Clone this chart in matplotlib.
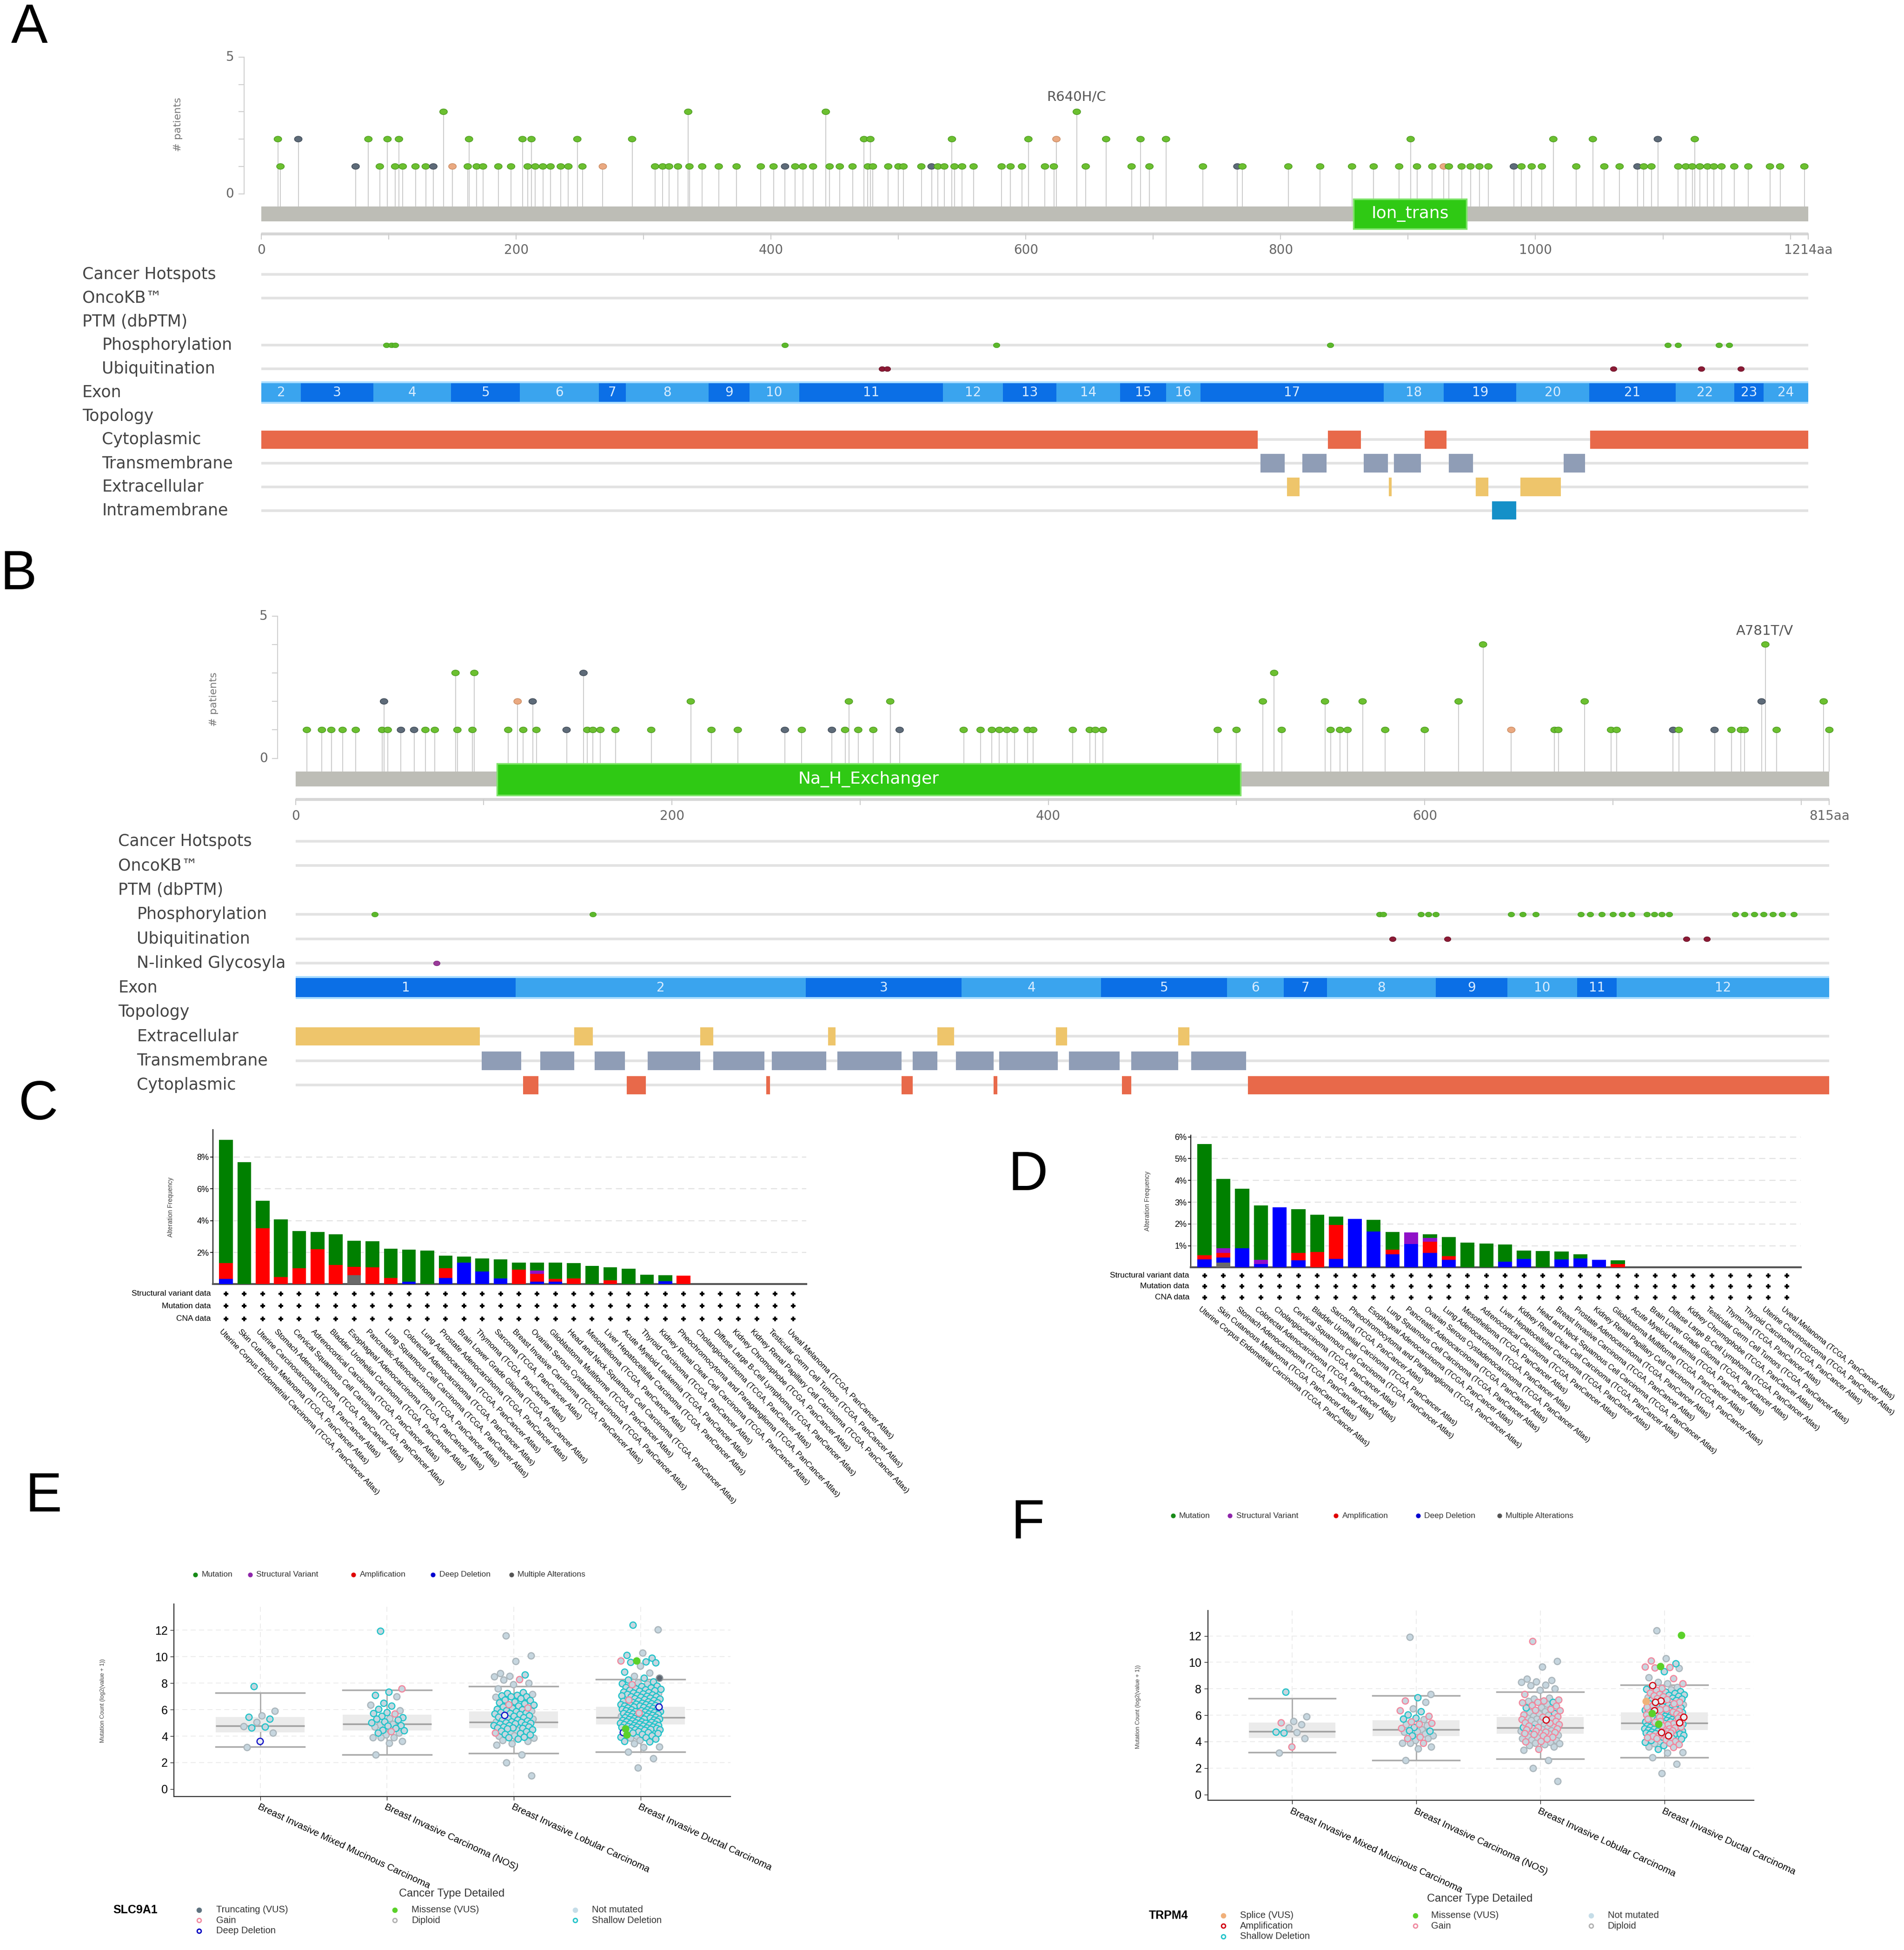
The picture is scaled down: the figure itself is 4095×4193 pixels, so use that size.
import numpy as np
import matplotlib
matplotlib.use("Agg")
import matplotlib.pyplot as plt
import matplotlib.transforms as mtransforms
from matplotlib.patches import Rectangle

plt.rcParams['font.family'] = ['Liberation Sans', 'DejaVu Sans']
WIDE = ['DejaVu Sans']

# ---------------- panel A : SLC9A1 lollipop (1214 aa) ----------------
A_length = 1214
A_h1 = [15, 74, 93, 105, 111, 121, 129, 135, 150, 162, 169, 174, 186, 196, 209, 215, 221,
        227, 235, 241, 252, 268, 309, 315, 320, 327, 336, 346, 359, 373, 392, 402, 411, 419,
        425, 433, 446, 454, 464, 476, 480, 492, 500, 504, 518, 526, 531, 536, 544, 550, 559,
        581, 588, 597, 615, 622, 647, 683, 697, 739, 766, 770, 806, 831, 856, 873, 893, 907,
        919, 928, 932, 942, 949, 956, 963, 983, 989, 997, 1005, 1032, 1054, 1066, 1080, 1085,
        1091, 1112, 1118, 1123, 1129, 1135, 1140, 1146, 1156, 1167, 1184, 1192, 1211]
A_h2 = [13, 29, 84, 99, 108, 163, 205, 212, 248, 291, 473, 478, 542, 602, 624, 663, 690,
        710, 902, 1014, 1045, 1096, 1125]
A_h3 = [143, 335, 443, 640]
A_truncating = [29, 74, 135, 411, 526, 766, 983, 1080, 1096]
A_other = [150, 268, 624, 928]
A_domain = (857, 946)
A_domain_name = "Ion_trans"
A_hotspot = "R640H/C"
A_phospho = [98, 102, 105, 411, 577, 839, 1104, 1112, 1144, 1152]
A_ubiq = [487, 491, 1061, 1130, 1161]
A_exon_edges = [0, 31, 88, 149, 203, 265, 286, 351, 383, 422, 535, 582, 624, 674, 710, 737,
                881, 928, 985, 1042, 1110, 1156, 1179, 1214]
A_exon_first = 2
A_cyto = [(0, 782), (837, 863), (913, 930), (1043, 1214)]
A_tm = [(784, 803), (817, 836), (865, 884), (889, 910), (932, 951), (1022, 1039)]
A_extra = [(805, 815), (885, 887), (953, 963), (988, 1020)]
A_intra = [(966, 985)]
A_tracks = ["Cancer Hotspots", "OncoKB\u2122", "PTM (dbPTM)", "Phosphorylation", "Ubiquitination",
            "Exon", "Topology", "Cytoplasmic", "Transmembrane", "Extracellular", "Intramembrane"]
A_indent = [0, 0, 0, 1, 1, 0, 0, 1, 1, 1, 1]

# ---------------- panel B : second protein (815 aa) ----------------
B_length = 815
B_h1 = [6, 14, 19, 25, 32, 46, 49, 56, 63, 69, 74, 86, 94, 113, 121, 128, 144, 155, 158, 162,
        170, 189, 221, 235, 260, 269, 285, 292, 299, 307, 321, 355, 364, 370, 374, 378, 382,
        389, 392, 413, 422, 425, 429, 490, 500, 524, 550, 555, 559, 579, 600, 646, 669, 671,
        699, 702, 732, 735, 754, 763, 768, 770, 787, 815]
B_h2 = [47, 118, 126, 210, 294, 316, 514, 547, 567, 618, 685, 779, 812]
B_h3 = [85, 95, 153, 520]
B_h4 = [631, 781]
B_truncating = [47, 56, 63, 126, 144, 153, 260, 285, 321, 732, 754, 779]
B_other = [118, 646]
B_domain = (107, 502)
B_domain_name = "Na_H_Exchanger"
B_hotspot = "A781T/V"
B_phospho = [42, 158, 576, 578, 598, 602, 606, 646, 652, 659, 683, 688, 694, 700, 705, 710,
             718, 722, 726, 730, 765, 770, 775, 780, 785, 790, 796]
B_ubiq = [583, 612, 739, 750]
B_nlinked = [75]
B_exon_edges = [0, 117, 271, 354, 428, 495, 525, 548, 606, 644, 681, 702, 815]
B_exon_first = 1
B_extra = [(0, 98), (148, 158), (215, 222), (283, 287), (341, 350), (404, 410), (469, 475)]
B_tm = [(99, 120), (130, 148), (159, 175), (187, 215), (222, 249), (253, 282), (288, 322),
        (328, 341), (351, 371), (374, 405), (411, 438), (444, 469), (476, 505)]
B_cyto = [(121, 129), (176, 186), (250, 252), (322, 328), (371, 373), (439, 444), (506, 815)]
B_tracks = ["Cancer Hotspots", "OncoKB\u2122", "PTM (dbPTM)", "Phosphorylation", "Ubiquitination",
            "N-linked Glycosyla", "Exon", "Topology", "Extracellular", "Transmembrane", "Cytoplasmic"]
B_indent = [0, 0, 0, 1, 1, 1, 0, 0, 1, 1, 1]

# ---------------- panels C / D : alteration frequency (%) ----------------
SUFFIX = " (TCGA, PanCancer Atlas)"
C_cats = ["Uterine Corpus Endometrial Carcinoma", "Skin Cutaneous Melanoma", "Uterine Carcinosarcoma",
          "Stomach Adenocarcinoma", "Cervical Squamous Cell Carcinoma", "Adrenocortical Carcinoma",
          "Bladder Urothelial Carcinoma", "Esophageal Adenocarcinoma", "Pancreatic Adenocarcinoma",
          "Lung Squamous Cell Carcinoma", "Colorectal Adenocarcinoma", "Lung Adenocarcinoma",
          "Prostate Adenocarcinoma", "Brain Lower Grade Glioma", "Thymoma", "Sarcoma",
          "Breast Invasive Carcinoma", "Ovarian Serous Cystadenocarcinoma", "Glioblastoma Multiforme",
          "Head and Neck Squamous Cell Carcinoma", "Mesothelioma", "Liver Hepatocellular Carcinoma",
          "Acute Myeloid Leukemia", "Thyroid Carcinoma", "Kidney Renal Clear Cell Carcinoma",
          "Pheochromocytoma and Paraganglioma", "Cholangiocarcinoma", "Diffuse Large B-Cell Lymphoma",
          "Kidney Chromophobe", "Kidney Renal Papillary Cell Carcinoma", "Testicular Germ Cell Tumors",
          "Uveal Melanoma"]
C_mut = [7.75, 7.69, 1.74, 3.62, 2.36, 1.09, 1.94, 1.63, 1.63, 1.84, 2.01, 2.11, 0.80, 0.37, 0.80,
         1.19, 0.46, 0.51, 1.02, 0.97, 1.14, 0.80, 0.99, 0.59, 0.38, 0, 0, 0, 0, 0, 0, 0]
C_sv = [0, 0, 0, 0, 0, 0, 0, 0, 0, 0, 0, 0, 0, 0, 0, 0, 0, 0.20, 0, 0, 0, 0, 0, 0, 0, 0,
        0, 0, 0, 0, 0, 0]
C_amp = [0.98, 0, 3.51, 0.46, 1.00, 2.20, 1.20, 0.54, 1.07, 0.40, 0, 0, 0.61, 0, 0, 0, 0.91,
         0.50, 0.19, 0.36, 0, 0.26, 0, 0, 0, 0.55, 0, 0, 0, 0, 0, 0]
C_deep = [0.34, 0, 0, 0, 0, 0, 0, 0, 0, 0, 0.17, 0, 0.39, 1.37, 0.81, 0.37, 0, 0.15, 0.15, 0,
          0, 0, 0, 0, 0.19, 0, 0, 0, 0, 0, 0, 0]
C_multi = [0, 0, 0, 0, 0, 0, 0, 0.56, 0, 0, 0, 0, 0, 0, 0, 0, 0, 0, 0, 0, 0, 0, 0, 0, 0, 0,
           0, 0, 0, 0, 0, 0]

D_cats = ["Uterine Corpus Endometrial Carcinoma", "Skin Cutaneous Melanoma", "Stomach Adenocarcinoma",
          "Colorectal Adenocarcinoma", "Cholangiocarcinoma", "Cervical Squamous Cell Carcinoma",
          "Bladder Urothelial Carcinoma", "Sarcoma", "Pheochromocytoma and Paraganglioma",
          "Esophageal Adenocarcinoma", "Lung Squamous Cell Carcinoma", "Pancreatic Adenocarcinoma",
          "Ovarian Serous Cystadenocarcinoma", "Lung Adenocarcinoma", "Mesothelioma",
          "Adrenocortical Carcinoma", "Liver Hepatocellular Carcinoma", "Kidney Renal Clear Cell Carcinoma",
          "Head and Neck Squamous Cell Carcinoma", "Breast Invasive Carcinoma", "Prostate Adenocarcinoma",
          "Kidney Renal Papillary Cell Carcinoma", "Glioblastoma Multiforme", "Acute Myeloid Leukemia",
          "Brain Lower Grade Glioma", "Diffuse Large B-Cell Lymphoma", "Kidney Chromophobe",
          "Testicular Germ Cell Tumors", "Thymoma", "Thyroid Carcinoma", "Uterine Carcinosarcoma",
          "Uveal Melanoma"]
D_mut = [5.11, 3.18, 2.74, 2.51, 0, 2.02, 1.72, 0.39, 0, 0.53, 0.81, 0, 0.17, 0.87, 1.14, 1.09,
         0.80, 0.38, 0.75, 0.37, 0.19, 0, 0.17, 0, 0, 0, 0, 0, 0, 0, 0, 0]
D_sv = [0, 0.22, 0, 0.19, 0, 0, 0, 0, 0, 0, 0, 0.55, 0.17, 0, 0, 0, 0, 0, 0, 0, 0, 0, 0, 0,
        0, 0, 0, 0, 0, 0, 0, 0]
D_amp = [0.19, 0.22, 0, 0, 0, 0.34, 0.71, 1.56, 0, 0, 0.21, 0, 0.51, 0.19, 0, 0, 0, 0, 0, 0,
         0, 0, 0.16, 0, 0, 0, 0, 0, 0, 0, 0, 0]
D_deep = [0.37, 0.23, 0.89, 0.15, 2.77, 0.32, 0, 0.39, 2.24, 1.65, 0.61, 1.07, 0.68, 0.34, 0, 0,
          0.26, 0.39, 0, 0.36, 0.41, 0.34, 0, 0, 0, 0, 0, 0, 0, 0, 0, 0]
D_multi = [0, 0.22, 0, 0, 0, 0, 0, 0, 0, 0, 0, 0, 0, 0, 0, 0, 0, 0, 0, 0, 0, 0, 0, 0, 0, 0,
           0, 0, 0, 0, 0, 0]
ROW_LABELS = ["Structural variant data", "Mutation data", "CNA data"]

# ---------------- panels E / F : mutation count by subtype ----------------
SUBTYPES = ["Breast Invasive Mixed Mucinous Carcinoma", "Breast Invasive Carcinoma (NOS)",
            "Breast Invasive Lobular Carcinoma", "Breast Invasive Ductal Carcinoma"]
# codes: n diploid, s shallow deletion, p gain, d deep deletion, a amplification,
#        m missense, x multiple/truncating, o splice
MC_y = [7.75, 5.90, 5.55, 5.45, 5.30, 5.05, 4.75, 4.70, 4.65, 4.25, 3.60, 3.15]
MC_slc = "snnssnnssndn"
MC_trpm = "snnpnnsnsnpn"

NOS_y = [11.93, 7.60, 7.34, 7.08, 6.98, 6.50, 6.35, 6.30, 6.05, 5.92, 5.80, 5.72, 5.70, 5.50,
         5.40, 5.35, 5.30, 5.22, 5.08, 5.02, 4.93, 4.83, 4.82, 4.78, 4.72, 4.60, 4.46, 4.44,
         4.35, 4.25, 4.24, 4.10, 3.90, 3.90, 3.89, 3.60, 3.46, 2.60]
NOS_slc = "spssnsnssn" + "sspssnssss" + "nnssnsssps" + "nnnnnnnn"
NOS_trpm = "nnspnnpssp" + "ssnpppnnsp" + "nssnnnsnpp" + "nnnpnnnn"

LOB_y = [11.60, 10.10, 9.65, 8.75, 8.65, 8.55, 8.50, 8.30, 8.25, 8.00, 7.90,
         7.60, 7.30, 7.25, 7.15, 7.10, 7.05, 7.00, 6.98, 6.95,
         6.85, 6.75, 6.70, 6.60, 6.55, 6.45, 6.40, 6.35, 6.30, 6.20, 6.15, 6.10, 6.05, 6.00,
         5.95, 5.90,
         5.85, 5.80, 5.75, 5.72, 5.68, 5.65, 5.60, 5.55, 5.50, 5.45, 5.40, 5.35, 5.30, 5.25,
         5.20, 5.15, 5.10, 5.08,
         5.05, 5.02, 5.00, 4.95, 4.90, 4.85, 4.82, 4.80, 4.75, 4.72, 4.70, 4.65, 4.62,
         4.60, 4.55, 4.50, 4.45, 4.40, 4.35, 4.30, 4.25, 4.20, 4.15, 4.10, 4.05, 4.00, 3.95,
         3.90, 3.85, 3.80, 3.70, 3.60, 3.45, 3.35, 2.60, 2.00, 1.00]
LOB_slc = ("nnnnsnnpnnn" + "nssnssssn" + "sssssspsssps" + "sssn" + "ssssssdsssssnssssn"
           + "ssssssssnssss" + "sssnssnpsssnnssnsnnnnnnn")
LOB_trpm = ("pnnnnnnnnnn" + "pnnppnspp" + "nppnspppnnsnpnnp" + "pnpnpanpnppnpnpnps"
            + "nspnpnpnpnpnp" + "npnpnpnnpnnppnnnnnnpnnnn")

DUC_y = [12.40, 12.05, 10.30, 10.12, 9.92, 9.70, 9.68, 9.62, 9.58, 9.55, 9.30, 8.85, 8.80, 8.52,
         8.40, 8.38,
         8.25, 8.10, 8.05, 7.98, 7.95, 7.90, 7.80, 7.75, 7.70, 7.65, 7.60, 7.55, 7.50, 7.48,
         7.45, 7.40, 7.35, 7.30, 7.28, 7.25, 7.20, 7.15, 7.12, 7.10, 7.05, 7.02, 7.00,
         6.98, 6.95, 6.90, 6.88, 6.85, 6.80, 6.78, 6.75, 6.70, 6.68, 6.65, 6.60, 6.58, 6.55,
         6.50, 6.48, 6.45, 6.42, 6.40, 6.38, 6.35, 6.32, 6.30, 6.28, 6.25, 6.22, 6.20,
         6.18, 6.15, 6.12, 6.10, 6.05, 6.02, 6.00, 5.98, 5.95, 5.92, 5.90, 5.88, 5.85, 5.82,
         5.80, 5.78, 5.75, 5.72, 5.70, 5.68, 5.65, 5.62, 5.60, 5.58, 5.55, 5.52, 5.50, 5.48,
         5.45, 5.42,
         5.40, 5.38, 5.35, 5.32, 5.30, 5.28, 5.25, 5.22, 5.20, 5.18, 5.15, 5.12, 5.10, 5.08,
         5.05, 5.02, 5.00, 4.98, 4.95, 4.92, 4.90, 4.88,
         4.85, 4.82, 4.80, 4.78, 4.75, 4.72, 4.70, 4.68, 4.65, 4.62, 4.60, 4.58, 4.55, 4.52,
         4.50, 4.48, 4.45, 4.42, 4.40, 4.35, 4.30, 4.28, 4.25, 4.20, 4.15, 4.10, 4.05, 4.00,
         3.95, 3.90, 3.85, 3.80, 3.70, 3.60, 3.58, 3.45, 3.20, 3.15, 2.80, 2.30, 1.60]
DUC_slc = ("snnssmpsssnsnnxs" + "ssnsnpsssssssssssssnsssssss" + "ssnsssspsssssssnssssssssssd"
           + "sssnsssssssssssspssssssssnsssss"[:30] + "sssssssssnssssssssssss"
           + "ssssssssssssmsssssnsdssssmsnssnsnssnnnnnn")
DUC_trpm = ("nmnpsmpppnsnpnpn" + "anpsnpsspspsspspnspspssaosa" + "psspsnspsspsnspsspssapsspss"
            + "smpspsspsnspasspspsspsnspsspas" + "spmspsspsnspsspsspssns"
            + "psspsnaspsspsspsapnspspspspnspnpsnpsnnnnn")

BOX_lo = [3.18, 2.60, 2.69, 2.81]
BOX_q1 = [4.27, 4.42, 4.61, 4.87]
BOX_med = [4.77, 4.92, 5.05, 5.42]
BOX_q3 = [5.45, 5.61, 5.86, 6.23]
BOX_hi = [7.28, 7.47, 7.78, 8.28]

# ---------------- layout helpers (reference drawn at 1530 x 1567 units) ----------------
W_DISP, H_DISP = 1530.0, 1567.0
fig = plt.figure(figsize=(40.95, 41.93), dpi=100)
ov = fig.add_axes([0, 0, 1, 1])
ov.set_xlim(0, W_DISP)
ov.set_ylim(H_DISP, 0)
ov.axis('off')


def fx(X):
    return X / W_DISP


def fy(Y):
    return 1 - Y / H_DISP


def add_ax(x0, y0, x1, y1):
    ax = fig.add_axes([fx(x0), fy(y1), fx(x1) - fx(x0), fy(y0) - fy(y1)])
    ax.set_facecolor('none')
    return ax


theta = np.linspace(0, 2 * np.pi, 41)
ELL = np.column_stack([1.35 * np.cos(theta), np.sin(theta)])

MISS = ('#6cc030', '#4c9a20')
TRUNC = ('#5e6b79', '#3f4a56')
OTHER = ('#eaa981', '#c98a60')


def lollipop(L, levels, trunc, other, domain, dom_name, hot_name, hot_xy,
             dx0, dx1, dspine, y5, y0, top, bot, bar, dom_y, axis_y, lab_y, ylab_xy):
    k = L / (dx1 - dx0)
    u = (y0 - y5) / 5.0

    def sx(X):
        return (X - dx0) * k

    def dy(Y):
        return (y0 - Y) / u

    ax = add_ax(dspine - 2, top, dx1 + 20, bot)
    ax.set_xlim(sx(dspine - 2), sx(dx1 + 20))
    ax.set_ylim(dy(bot), dy(top))
    ax.axis('off')
    xs = sx(dspine)
    ax.plot([xs, xs], [0, 5], color='#d0d0d0', lw=1.5)
    for t in range(6):
        ax.plot([sx(dspine - 4), xs], [t, t], color='#d0d0d0', lw=1.5, clip_on=False)
    for t in (0, 5):
        ax.text(sx(dspine - 8), t, str(t), ha='right', va='center', fontsize=20,
                color='#666666', family=WIDE)
    ov.text(ylab_xy[0], ylab_xy[1], '# patients', rotation=90, ha='center', va='center',
            fontsize=16, color='#777777', family=WIDE)

    ax.add_patch(Rectangle((0, dy(bar[1])), L, dy(bar[0]) - dy(bar[1]),
                           fc='#bdbdb6', ec='none', zorder=2))
    pos, cnt, fcs, ecs = [], [], [], []
    for c, plist in enumerate(levels, start=1):
        for p in plist:
            pos.append(p)
            cnt.append(c)
            st = TRUNC if p in trunc else (OTHER if p in other else MISS)
            fcs.append(st[0])
            ecs.append(st[1])
    ax.vlines(pos, dy(bar[0]), cnt, colors='#c8c8c8', lw=1.3, zorder=1)
    ax.scatter(pos, cnt, marker=ELL, s=140, c=fcs, edgecolors=ecs, linewidths=1.0, zorder=5)

    d0, d1 = domain
    ax.add_patch(Rectangle((d0, dy(dom_y[1])), d1 - d0, dy(dom_y[0]) - dy(dom_y[1]),
                           fc='#2fc914', ec='#7fe36a', lw=2.5, zorder=3))
    ax.text((d0 + d1) / 2, (dy(dom_y[0]) + dy(dom_y[1])) / 2, dom_name, ha='center',
            va='center', color='white', fontsize=26, family=WIDE, zorder=4)

    ya = dy(axis_y)
    ax.plot([0, L], [ya, ya], color='#d6d6d6', lw=4.5, clip_on=False,
            solid_capstyle='butt', zorder=1)
    for t in list(range(0, L, 100)) + [L]:
        ax.plot([t, t], [ya, dy(axis_y + 4)], color='#cccccc', lw=1.5, clip_on=False)
    for t in range(0, L - 50, 200):
        ax.text(t, dy(lab_y), str(t), ha='center', va='center', fontsize=20,
                color='#666666', family=WIDE, clip_on=False)
    ax.text(L, dy(lab_y), f'{L}aa', ha='center', va='center', fontsize=20,
            color='#666666', family=WIDE, clip_on=False)
    ax.text(sx(hot_xy[0]), dy(hot_xy[1]), hot_name, ha='center', va='center', fontsize=21,
            color='#555555', family=WIDE)


TRACK_STYLE = {
    'Phosphorylation': ('pt', '#5cb82b', '#48a020'),
    'Ubiquitination': ('pt', '#8b1a35', '#6a1025'),
    'N-linked Glycosyla': ('pt', '#9a3a9a', '#7a2a7a'),
    'Cytoplasmic': ('seg', '#e8694a', None),
    'Transmembrane': ('seg', '#8f9db6', None),
    'Extracellular': ('seg', '#eec56b', None),
    'Intramembrane': ('seg', '#1590c8', None),
}


def tracks(L, dx0, dx1, labels, indent, y_first, step, lab_x, feats, exon_edges, exon_first):
    ys = [y_first + i * step for i in range(len(labels))]
    ax = add_ax(dx0, ys[0] - step / 2, dx1, ys[-1] + step / 2)
    ax.set_xlim(0, L)
    ax.set_ylim(ys[-1] + step / 2, ys[0] - step / 2)
    ax.axis('off')
    for lab, ind, y in zip(labels, indent, ys):
        ov.text(lab_x[ind], y, lab, ha='left', va='center', fontsize=25,
                color='#444444', family=WIDE)
        if lab in ("PTM (dbPTM)", "Topology"):
            continue
        if lab == "Exon":
            ax.add_patch(Rectangle((0, y - 9), L, 18, fc='#a8dcff', ec='none', zorder=1))
            for i, (a, b) in enumerate(zip(exon_edges[:-1], exon_edges[1:])):
                num = exon_first + i
                col = '#0b6fe6' if num % 2 else '#3aa4ee'
                ax.add_patch(Rectangle((a, y - 7.5), b - a, 15, fc=col, ec='none', zorder=2))
                ax.text((a + b) / 2, y, str(num), ha='center', va='center', fontsize=20,
                        color='#d8ecff', family=WIDE, zorder=3)
            continue
        ax.plot([0, L], [y, y], color='#e2e2e2', lw=4, solid_capstyle='butt', zorder=1)
        if lab not in feats:
            continue
        kind, fc, ec = TRACK_STYLE[lab]
        if kind == 'seg':
            for a, b in feats[lab]:
                ax.add_patch(Rectangle((a, y - 7.4), b - a, 14.8, fc=fc, ec='none', zorder=2))
        else:
            pts = feats[lab]
            ax.scatter(pts, [y] * len(pts), marker=ELL, s=100, c=fc, edgecolors=ec,
                       linewidths=0.8, zorder=3)


ALT_COLORS = ['#6a6a6a', '#0000ff', '#ff0000', '#9010c8', '#008000']


def alterations(box, xlim, ylim, cats, layers, yticks, rows_y, rowlab_x, lab_y, rot, lab_fs,
                ylab_xy):
    ax = add_ax(*box)
    n = len(cats)
    x = np.arange(n)
    bottom = np.zeros(n)
    for vals, col in zip(layers, ALT_COLORS):
        vals = np.asarray(vals, float)
        ax.bar(x, vals, 0.75, bottom=bottom, color=col, zorder=3, linewidth=0)
        bottom += vals
    ax.set_xlim(*xlim)
    ax.set_ylim(*ylim)
    ax.set_xticks([])
    ax.set_yticks(yticks)
    ax.set_yticklabels([f'{t:g}%' for t in yticks], fontsize=13)
    ax.tick_params(axis='y', length=4, width=1.2, pad=2)
    for t in yticks:
        ax.axhline(t, color='#e2e2e2', lw=1.6, ls=(0, (6, 4)), zorder=1)
    for s in ('top', 'right'):
        ax.spines[s].set_visible(False)
    ax.spines['left'].set_linewidth(1.5)
    ax.spines['bottom'].set_color('#555555')
    ax.spines['bottom'].set_linewidth(3)
    ov.text(ylab_xy[0], ylab_xy[1], 'Alteration Frequency', rotation=90, ha='center',
            va='center', fontsize=10, color='#444444')
    tr = mtransforms.blended_transform_factory(ax.transData, fig.transFigure)
    for lab, Y in zip(ROW_LABELS, rows_y):
        ov.text(rowlab_x, Y, lab, ha='right', va='center', fontsize=12.5)
        ax.scatter(x, np.full(n, fy(Y)), transform=tr, marker='P', s=55, c='k',
                   linewidths=0, clip_on=False, zorder=5)
    for i, c in enumerate(cats):
        ax.text(i - 0.15, fy(lab_y), c + SUFFIX, transform=tr, rotation=rot,
                rotation_mode='anchor', ha='left', va='top', fontsize=lab_fs)


PT_STYLE = {
    'n': ('#c6d6df', '#abb6bc', 3),
    's': ('#c6d6df', '#22c3c9', 4),
    'p': ('#c6d6df', '#f2879d', 4),
    'd': ('#e8eef2', '#1010c8', 6),
    'a': ('#e8eef2', '#d00010', 6),
    'm': ('#5bd12a', '#5bd12a', 7),
    'x': ('#5d6670', '#8a9299', 7),
    'o': ('#f0b27a', '#f0b27a', 7),
}
LEG_STYLE = {
    'trunc': ('#5f7380', '#5f7380'), 'miss': ('#5bd12a', '#5bd12a'),
    'none': ('#c5dde8', '#c5dde8'), 'splice': ('#f0b07a', '#f0b07a'),
    'gain': ('white', '#f08aa0'), 'dipl': ('white', '#b0b0b0'),
    'shal': ('white', '#22c3c9'), 'deep': ('white', '#0000c0'), 'amp': ('white', '#d00010'),
}
TOP_LEGEND = [('Mutation', '#168a16'), ('Structural Variant', '#8e24aa'),
              ('Amplification', '#e00000'), ('Deep Deletion', '#0000d0'),
              ('Multiple Alterations', '#555555')]


def counts(box, xlim, ylim, groups, gene, items, top_x, top_y, cols_dot, cols_txt, rows_y,
           gene_x, ylab_xy, xlab_xy):
    ax = add_ax(*box)
    ax.set_xlim(*xlim)
    ax.set_ylim(*ylim)
    for t in range(2, 13, 2):
        ax.axhline(t, color='#ececec', lw=1.3, ls=(0, (6, 4)), zorder=0)
    for g in range(len(SUBTYPES)):
        ax.axvline(g, color='#ececec', lw=1.3, ls=(0, (6, 4)), zorder=0)
    stats = [dict(whislo=lo, q1=a, med=m, q3=b, whishi=hi, fliers=[])
             for lo, a, m, b, hi in zip(BOX_lo, BOX_q1, BOX_med, BOX_q3, BOX_hi)]
    ax.bxp(stats, positions=range(len(stats)), widths=0.7, capwidths=0.7, patch_artist=True,
           showfliers=False, boxprops=dict(facecolor='#ebebeb', edgecolor='none'),
           medianprops=dict(color='#a0a0a0', lw=2.5), whiskerprops=dict(color='#aaaaaa', lw=2),
           capprops=dict(color='#aaaaaa', lw=2.5), manage_ticks=False, zorder=1)
    for g, (yv, codes) in enumerate(groups):
        yv = np.asarray(yv, float)
        codes = np.array(list(codes))[:len(yv)]
        yv = yv[:len(codes)]
        hw = 0.135 if g < 2 else 0.16
        offs = ((np.arange(len(yv)) * 0.618034 + 0.31) % 1.0 - 0.5) * 2 * hw
        for c, (fc, ec, z) in PT_STYLE.items():
            msk = codes == c
            if msk.any():
                ax.scatter(g + offs[msk], yv[msk], s=95, facecolors=fc, edgecolors=ec,
                           linewidths=1.8, zorder=z)
    for s in ('top', 'right'):
        ax.spines[s].set_visible(False)
    for s in ('left', 'bottom'):
        ax.spines[s].set_linewidth(1.6)
        ax.spines[s].set_color('#333333')
    ax.set_yticks(range(0, 13, 2))
    ax.tick_params(axis='y', labelsize=18, length=6)
    ax.set_xticks(range(len(SUBTYPES)))
    ax.set_xticklabels(SUBTYPES, rotation=-25, ha='left', rotation_mode='anchor', fontsize=15)
    ax.tick_params(axis='x', length=6)
    ov.text(ylab_xy[0], ylab_xy[1], 'Mutation Count (log2(value + 1))', rotation=90,
            ha='center', va='center', fontsize=9, color='#444444')
    ov.text(xlab_xy[0], xlab_xy[1], 'Cancer Type Detailed', ha='center', va='center',
            fontsize=17, color='#333333')
    for (lab, col), X in zip(TOP_LEGEND, top_x):
        ov.scatter([X], [top_y], s=40, c=col, zorder=5)
        ov.text(X + 5, top_y, lab, ha='left', va='center', fontsize=12.5, color='#333333')
    ov.text(gene_x, rows_y[0], gene, ha='left', va='center', fontsize=18, fontweight='bold')
    for kk, (lab, st) in enumerate(items):
        r, c = divmod(kk, 3)
        fc, ec = LEG_STYLE[st]
        ov.scatter([cols_dot[c]], [rows_y[r]], s=40, facecolors=fc, edgecolors=ec,
                   linewidths=2.0, zorder=5)
        ov.text(cols_txt[c], rows_y[r], lab, ha='left', va='center', fontsize=14.5,
                color='#333333')


# ---------------- draw ----------------
lollipop(A_length, [A_h1, A_h2, A_h3], A_truncating, A_other, A_domain, A_domain_name,
         A_hotspot, (865, 78), dx0=210, dx1=1453, dspine=196, y5=45.9, y0=155.7, top=38,
         bot=192, bar=(166, 178), dom_y=(160, 184), axis_y=188, lab_y=201, ylab_xy=(143, 100))
tracks(A_length, 210, 1453, A_tracks, A_indent, 220.5, 18.97, (66, 82),
       {'Phosphorylation': A_phospho, 'Ubiquitination': A_ubiq, 'Cytoplasmic': A_cyto,
        'Transmembrane': A_tm, 'Extracellular': A_extra, 'Intramembrane': A_intra},
       A_exon_edges, A_exon_first)

lollipop(B_length, [B_h1, B_h2, B_h3, B_h4], B_truncating, B_other, B_domain, B_domain_name,
         B_hotspot, (1418, 507), dx0=237.5, dx1=1470, dspine=223, y5=495, y0=609.4, top=485,
         bot=645, bar=(620, 632), dom_y=(613.6, 638.9), axis_y=642.4, lab_y=656,
         ylab_xy=(172, 562))
tracks(B_length, 237.5, 1470, B_tracks, B_indent, 676, 19.6, (95, 110),
       {'Phosphorylation': B_phospho, 'Ubiquitination': B_ubiq, 'N-linked Glycosyla': B_nlinked,
        'Extracellular': B_extra, 'Transmembrane': B_tm, 'Cytoplasmic': B_cyto},
       B_exon_edges, B_exon_first)

alterations((171, 907.7, 648, 1032), (-0.72, 31.71), (0, 9.73), C_cats,
            [C_multi, C_deep, C_amp, C_sv, C_mut], [2, 4, 6, 8], (1039.5, 1049.5, 1059.8),
            169.5, 1067, -46, 12, (137, 970))
alterations((956.8, 912.4, 1447, 1018.5), (-0.735, 31.73), (0, 6.07), D_cats,
            [D_multi, D_deep, D_amp, D_sv, D_mut], [1, 2, 3, 4, 5, 6], (1025, 1033.7, 1042.5),
            955.7, 1049, -39, 11.5, (922, 965))

counts((139.8, 1289, 587, 1443.5), (-0.68, 3.71), (-0.55, 13.98),
       [(MC_y, MC_slc), (NOS_y, NOS_slc), (LOB_y, LOB_slc), (DUC_y, DUC_slc)], 'SLC9A1',
       [('Truncating (VUS)', 'trunc'), ('Missense (VUS)', 'miss'), ('Not mutated', 'none'),
        ('Gain', 'gain'), ('Diploid', 'dipl'), ('Shallow Deletion', 'shal'),
        ('Deep Deletion', 'deep')],
       [157, 201, 284, 348, 411], 1265.3, [160, 317.3, 462], [173.6, 330.7, 475.6],
       [1534.8, 1543.2, 1551.6], 90.8, (82.6, 1366.6), (363, 1521.6))
counts((970.5, 1294, 1409.2, 1446.8), (-0.68, 3.72), (-0.45, 13.94),
       [(MC_y, MC_trpm), (NOS_y, NOS_trpm), (LOB_y, LOB_trpm), (DUC_y, DUC_trpm)], 'TRPM4',
       [('Splice (VUS)', 'splice'), ('Missense (VUS)', 'miss'), ('Not mutated', 'none'),
        ('Amplification', 'amp'), ('Gain', 'gain'), ('Diploid', 'dipl'),
        ('Shallow Deletion', 'shal')],
       [942.5, 988.4, 1073.6, 1139.4, 1204.8], 1218, [982.9, 1137.2, 1278.5],
       [996.3, 1150.2, 1291.9], [1539.2, 1547.6, 1556.0], 923.2, (914.8, 1371.5), (1189, 1526))

for letter, X, Y in [('A', 23.5, 23), ('B', 15, 462), ('C', 31, 888), ('D', 826, 945),
                     ('E', 35, 1203), ('F', 826, 1225)]:
    ov.text(X, Y, letter, ha='center', va='center', fontsize=85, color='black')

fig.savefig('out.png', dpi=100)
